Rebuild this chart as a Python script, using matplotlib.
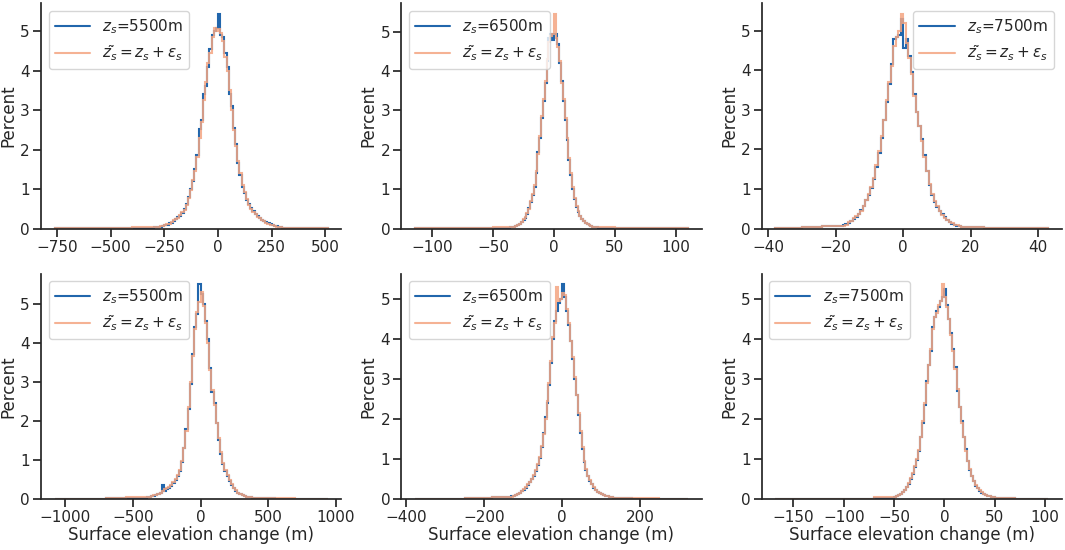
import numpy as np
import matplotlib.pyplot as plt
import seaborn as sns
from matplotlib.ticker import MultipleLocator

sns.set_theme(style="ticks", context="notebook")
plt.rcParams['font.family'] = ['DejaVu Sans']
plt.rcParams.update({
    'xtick.labelsize': 11,
    'ytick.labelsize': 11,
    'axes.labelsize': 12,
    'legend.fontsize': 11,
})

BLUE = "#2166ac"
ORANGE = "#f4a582"

heights = ["5500m", "6500m", "7500m"]
xtick_steps = [[250, 50, 20], [500, 200, 50]]

# ---- top row ----
# 5500 m : tails (3) + core -300..300 step 10 (60) + tails (2)
edges_a1 = [-760, -500, -400] + list(np.linspace(-300, 300, 61)) + [400, 510]
blue_a1 = [0.005, 0.015, 0.025,
           0.03, 0.04, 0.04, 0.05, 0.06, 0.08, 0.10, 0.13, 0.15, 0.20,
           0.25, 0.28, 0.33, 0.40, 0.50, 0.62, 0.80, 1.00, 1.20, 1.50,
           1.85, 2.52, 2.75, 3.40, 3.60, 4.10, 4.55, 4.90, 5.00, 5.07,
           5.43, 4.90, 4.85, 4.45, 4.10, 3.40, 3.10, 2.55, 2.15, 1.65,
           1.35, 1.05, 0.90, 0.72, 0.62, 0.53, 0.44, 0.37, 0.31, 0.27,
           0.22, 0.19, 0.16, 0.13, 0.11, 0.09, 0.07, 0.06, 0.05, 0.04,
           0.025, 0.008]
orange_a1 = [0.008, 0.012, 0.03,
             0.04, 0.04, 0.05, 0.06, 0.07, 0.09, 0.11, 0.12, 0.16, 0.21,
             0.24, 0.27, 0.34, 0.42, 0.48, 0.60, 0.78, 0.98, 1.22, 1.45,
             1.80, 2.30, 2.70, 3.25, 3.70, 4.20, 4.45, 4.85, 5.08, 5.00,
             5.05, 4.95, 4.75, 4.35, 4.00, 3.50, 3.00, 2.50, 2.10, 1.70,
             1.40, 1.10, 0.92, 0.75, 0.60, 0.50, 0.42, 0.36, 0.30, 0.26,
             0.21, 0.18, 0.15, 0.12, 0.10, 0.08, 0.07, 0.05, 0.04, 0.04,
             0.02, 0.006]

# 6500 m : tails (3) + core -36..36 step 1.5 (48) + tails (3)
edges_a2 = [-114, -80, -50] + list(np.linspace(-36, 36, 49)) + [50, 80, 110]
blue_a2 = [0.005, 0.015, 0.025,
           0.03, 0.04, 0.05, 0.06, 0.08, 0.11, 0.17, 0.22, 0.28, 0.38,
           0.52, 0.68, 0.85, 1.05, 1.40, 1.95, 2.30, 2.80, 3.25, 3.70,
           4.25, 4.85, 4.95, 4.80,
           4.95, 4.95, 4.70, 4.20, 3.75, 3.25, 2.75, 2.25, 1.75, 1.35,
           1.00, 0.75, 0.55, 0.42, 0.32, 0.24, 0.18, 0.14, 0.11, 0.08,
           0.07, 0.05, 0.04, 0.03,
           0.025, 0.012, 0.004]
orange_a2 = [0.004, 0.012, 0.03,
             0.04, 0.04, 0.05, 0.07, 0.09, 0.12, 0.16, 0.23, 0.30, 0.40,
             0.50, 0.70, 0.88, 1.10, 1.45, 1.90, 2.35, 2.85, 3.30, 3.75,
             4.30, 4.75, 4.90, 4.95,
             5.45, 4.85, 4.60, 4.25, 3.70, 3.30, 2.80, 2.30, 1.80, 1.40,
             1.05, 0.78, 0.58, 0.44, 0.33, 0.25, 0.19, 0.15, 0.11, 0.09,
             0.07, 0.05, 0.04, 0.03,
             0.03, 0.01, 0.005]

# 7500 m : tails (3) + core -18..18 step 0.75 (48) + tails (3)
edges_a3 = [-38, -30, -24] + list(np.linspace(-18, 18, 49)) + [24, 32, 43]
blue_a3 = [0.015, 0.03, 0.06,
           0.08, 0.11, 0.15, 0.19, 0.24, 0.30, 0.37, 0.46, 0.58, 0.72,
           0.85, 1.02, 1.25, 1.55, 1.90, 2.30, 2.75, 3.20, 3.65, 4.15,
           4.80, 4.85, 4.90, 5.30,
           4.57, 4.80, 4.35, 3.95, 3.40, 2.95, 2.60, 2.25, 1.85, 1.45,
           1.10, 0.85, 0.68, 0.55, 0.45, 0.36, 0.28, 0.22, 0.16, 0.12,
           0.09, 0.07, 0.06, 0.05,
           0.035, 0.015, 0.008]
orange_a3 = [0.012, 0.035, 0.06,
             0.07, 0.10, 0.16, 0.20, 0.26, 0.31, 0.36, 0.45, 0.57, 0.73,
             0.88, 1.05, 1.28, 1.60, 1.95, 2.35, 2.75, 3.25, 3.70, 4.10,
             4.60, 4.85, 5.00, 5.42,
             5.20, 4.70, 4.30, 3.90, 3.35, 2.95, 2.60, 2.20, 1.80, 1.45,
             1.12, 0.88, 0.70, 0.56, 0.44, 0.35, 0.27, 0.21, 0.17, 0.13,
             0.10, 0.08, 0.06, 0.05,
             0.035, 0.018, 0.01]

# ---- bottom row ----
# 5500 m : tails (3) + core -400..400 step 16 (50) + tails (3)
edges_b1 = [-1080, -700, -550] + list(np.linspace(-400, 400, 51)) + [550, 700, 940]
blue_b1 = [0.003, 0.01, 0.03,
           0.05, 0.06, 0.07, 0.08, 0.10, 0.13, 0.16, 0.36, 0.20, 0.24,
           0.28, 0.34, 0.40, 0.48, 0.58, 0.72, 0.95, 1.30, 1.80, 2.30,
           2.95, 3.72, 4.40, 4.75, 5.50,
           5.25, 5.00, 4.55, 4.10, 3.35, 2.75, 2.45, 1.95, 1.50, 1.15,
           0.90, 0.72, 0.58, 0.47, 0.36, 0.27, 0.20, 0.15, 0.12, 0.09,
           0.07, 0.06, 0.05, 0.04, 0.03,
           0.02, 0.008, 0.003]
orange_b1 = [0.002, 0.012, 0.035,
             0.05, 0.06, 0.08, 0.09, 0.11, 0.13, 0.16, 0.20, 0.24, 0.27,
             0.30, 0.36, 0.42, 0.50, 0.60, 0.75, 0.98, 1.30, 1.75, 2.35,
             3.00, 3.65, 4.35, 4.80, 5.05,
             5.30, 4.95, 4.50, 4.00, 3.30, 2.80, 2.40, 1.95, 1.55, 1.20,
             0.92, 0.74, 0.60, 0.48, 0.37, 0.28, 0.22, 0.16, 0.12, 0.10,
             0.08, 0.06, 0.05, 0.04, 0.03,
             0.025, 0.01, 0.003]

# 6500 m : tails (3) + core -130..130 step 5 (52) + tails (3)
edges_b2 = [-378, -250, -180] + list(np.linspace(-130, 130, 53)) + [180, 250, 323]
blue_b2 = [0.003, 0.015, 0.035,
           0.06, 0.07, 0.09, 0.11, 0.15, 0.19, 0.23, 0.28, 0.34, 0.41,
           0.49, 0.58, 0.70, 0.85, 1.02, 1.30, 1.65, 2.05, 2.40, 2.85,
           3.40, 4.00, 4.45, 4.70, 4.90, 5.00,
           5.37, 5.05, 4.70, 4.35, 3.95, 3.50, 3.00, 2.60, 2.10, 1.65,
           1.25, 0.92, 0.72, 0.57, 0.45, 0.36, 0.28, 0.23, 0.18, 0.14,
           0.11, 0.09, 0.07, 0.06, 0.05, 0.04,
           0.025, 0.008, 0.002]
orange_b2 = [0.002, 0.018, 0.04,
             0.05, 0.07, 0.09, 0.12, 0.15, 0.20, 0.25, 0.30, 0.36, 0.42,
             0.50, 0.60, 0.72, 0.88, 1.05, 1.32, 1.62, 2.00, 2.45, 2.90,
             3.45, 4.05, 4.40, 5.30, 4.95, 5.00,
             5.15, 5.10, 4.75, 4.40, 3.95, 3.55, 3.05, 2.60, 2.15, 1.70,
             1.30, 0.95, 0.75, 0.58, 0.46, 0.37, 0.29, 0.23, 0.18, 0.15,
             0.12, 0.09, 0.07, 0.06, 0.05, 0.04,
             0.03, 0.01, 0.003]

# 7500 m : tails (3) + core -50..50 step 2 (50) + tails (3)
edges_b3 = [-168, -100, -70] + list(np.linspace(-50, 50, 51)) + [70, 85, 103]
blue_b3 = [0.002, 0.006, 0.03,
           0.05, 0.07, 0.09, 0.12, 0.17, 0.22, 0.29, 0.38, 0.50, 0.62,
           0.80, 0.98, 1.20, 1.55, 1.90, 2.35, 2.95, 3.35, 3.70, 4.30,
           4.55, 4.70, 4.80, 4.95, 5.05,
           5.25, 4.85, 4.50, 4.15, 3.75, 3.30, 2.70, 2.30, 1.95, 1.55,
           1.25, 0.95, 0.72, 0.57, 0.44, 0.33, 0.26, 0.20, 0.15, 0.12,
           0.09, 0.07, 0.06, 0.05, 0.04,
           0.025, 0.008, 0.002]
orange_b3 = [0.001, 0.005, 0.035,
             0.05, 0.07, 0.10, 0.13, 0.18, 0.23, 0.30, 0.40, 0.52, 0.65,
             0.82, 1.00, 1.22, 1.55, 1.95, 2.40, 2.90, 3.35, 3.75, 4.25,
             4.55, 4.65, 4.85, 4.95, 5.37,
             5.05, 4.80, 4.50, 4.10, 3.70, 3.25, 2.75, 2.30, 1.90, 1.55,
             1.20, 0.95, 0.75, 0.58, 0.45, 0.35, 0.27, 0.21, 0.16, 0.12,
             0.10, 0.08, 0.06, 0.05, 0.04,
             0.03, 0.006, 0.002]

panels = [
    [(edges_a1, blue_a1, orange_a1), (edges_a2, blue_a2, orange_a2), (edges_a3, blue_a3, orange_a3)],
    [(edges_b1, blue_b1, orange_b1), (edges_b2, blue_b2, orange_b2), (edges_b3, blue_b3, orange_b3)],
]

fig, axes = plt.subplots(2, 3, figsize=(10.65, 5.5), dpi=100)
fig.subplots_adjust(left=0.0385, right=0.997, top=0.994, bottom=0.093,
                    wspace=0.2, hspace=0.2)

for r in range(2):
    for c in range(3):
        ax = axes[r, c]
        edges, blue, orange = panels[r][c]
        ax.stairs(blue, edges, color=BLUE, linewidth=1.5,
                  label=f"$z_s$={heights[c]}")
        ax.stairs(orange, edges, color=ORANGE, linewidth=1.5, alpha=0.85,
                  label=r"$\tilde{z_s} = z_s + \varepsilon_s$")
        ax.set_ylabel("Percent", labelpad=2)
        ax.set_yticks([0, 1, 2, 3, 4, 5])
        ax.xaxis.set_major_locator(MultipleLocator(xtick_steps[r][c]))
        if r == 1:
            ax.set_xlabel("Surface elevation change (m)", labelpad=1)
        ax.tick_params(axis='both', pad=2)
        loc = "upper right" if (r == 0 and c == 2) else "upper left"
        ax.legend(loc=loc, handlelength=2.3)
        sns.despine(ax=ax)

fig.savefig("out.png", dpi=100)
